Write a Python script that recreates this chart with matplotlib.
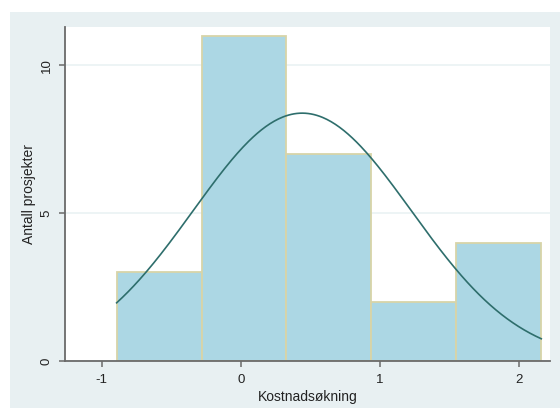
import numpy as np
import matplotlib
matplotlib.use('Agg')
import matplotlib.pyplot as plt
from matplotlib.patches import Rectangle

# histogram of cost increase per project
bin_edges = [-0.893, -0.283, 0.327, 0.937, 1.547, 2.157]
counts = [3, 11, 7, 2, 4]

# normal curve fitted to the same data
mean_val = 0.44
sd_val = 0.784

x_ticks = [-1, 0, 1, 2]
y_ticks = [0, 5, 10]

plt.rcParams['font.family'] = ['Liberation Sans', 'DejaVu Sans']
plt.rcParams['axes.unicode_minus'] = False

fig = plt.figure(figsize=(5.6, 4.08), dpi=100, facecolor='white')
fig.patches.append(Rectangle((10 / 560, 0), 1 - 10 / 560, 1 - 12 / 408,
                             transform=fig.transFigure, facecolor='#e8f0f2',
                             edgecolor='none', zorder=-5))

ax = fig.add_axes([65 / 560, 1 - 361.3 / 408, 485 / 560, 334.3 / 408])
ax.set_facecolor('white')

widths = np.diff(bin_edges)
ax.bar(bin_edges[:-1], counts, width=widths, align='edge',
       color='#acd7e4', edgecolor='#d8d4a8', linewidth=1.3, zorder=2)

n = sum(counts)
w = widths.mean()
xs = np.linspace(bin_edges[0], bin_edges[-1], 300)
ys = n * w / (sd_val * np.sqrt(2 * np.pi)) * np.exp(-0.5 * ((xs - mean_val) / sd_val) ** 2)
ax.plot(xs, ys, color='#2e6e6c', linewidth=1.2, zorder=3)

ax.set_xlim(-1.264, 2.22)
ax.set_ylim(0, 11.29)
ax.set_xticks(x_ticks)
ax.set_yticks(y_ticks)
ax.set_yticklabels([str(t) for t in y_ticks], rotation=90, va='center')
ax.grid(axis='y', color='#eaf2f3', linewidth=1.2, zorder=0)
ax.set_axisbelow(True)

for side in ['top', 'right']:
    ax.spines[side].set_visible(False)
for side in ['left', 'bottom']:
    ax.spines[side].set_color('#6a6a6a')
    ax.spines[side].set_linewidth(1.3)
ax.tick_params(colors='#6a6a6a', labelcolor='#222222', length=4, width=1.1,
               labelsize=9.5, pad=5)

ax.set_xlabel('Kostnadsøkning', fontsize=10, color='#222222', labelpad=3)
ax.set_ylabel('Antall prosjekter', fontsize=10, color='#222222', labelpad=3)

fig.savefig('out.png', dpi=100, facecolor='white')
